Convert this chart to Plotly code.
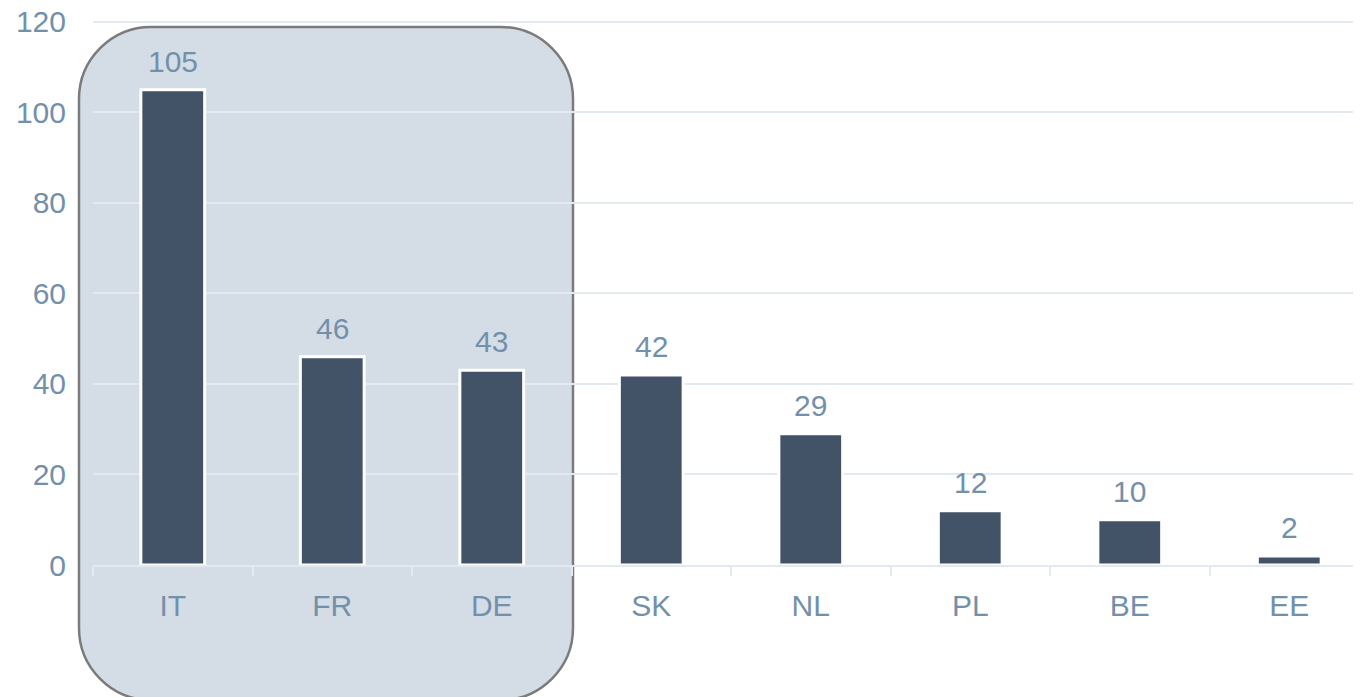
import plotly.graph_objects as go

categories = ["IT", "FR", "DE", "SK", "NL", "PL", "BE", "EE"]
values = [105, 46, 43, 42, 29, 12, 10, 2]
y_ticks = [0, 20, 40, 60, 80, 100, 120]

W, H = 1361, 697
OFF = 8  # page body margin
ML, MR, MT, MB = 85, 0, 12, 140
PW, PH = W - ML - MR, H - MT - MB

BAR = "#425267"
TXT = "#7390ab"
GRID = "#e3e9f1"
FONT = "Liberation Sans, Arial, sans-serif"
FS = 30

fig = go.Figure()
fig.add_trace(go.Bar(
    x=categories, y=values, width=0.4,
    marker=dict(color=BAR, line=dict(color="white", width=3)),
    hoverinfo="skip",
))

for c, v in zip(categories, values):
    fig.add_annotation(x=c, y=v, text=str(v), showarrow=False,
                       yanchor="bottom", yshift=10,
                       font=dict(family=FONT, size=FS, color=TXT))

# rounded highlight box (page pixel -> paper helper)
def px(x):
    return (x - OFF - ML) / PW
def py(y):
    return (H - MB - (y - OFF)) / PH

L, R, T, B, r = 79, 573, 27, 700, 72
k = 0.45
path = (
    f"M {px(L)},{py(T + r)} "
    f"C {px(L)},{py(T + r * k)} {px(L + r * k)},{py(T)} {px(L + r)},{py(T)} "
    f"L {px(R - r)},{py(T)} "
    f"C {px(R - r * k)},{py(T)} {px(R)},{py(T + r * k)} {px(R)},{py(T + r)} "
    f"L {px(R)},{py(B - r)} "
    f"C {px(R)},{py(B - r * k)} {px(R - r * k)},{py(B)} {px(R - r)},{py(B)} "
    f"L {px(L + r)},{py(B)} "
    f"C {px(L + r * k)},{py(B)} {px(L)},{py(B - r * k)} {px(L)},{py(B - r)} Z"
)
fig.add_shape(type="path", path=path, xref="paper", yref="paper",
              fillcolor="#d4dde6", line=dict(color="#7b7b7b", width=2.5),
              layer="below")

fig.update_layout(
    width=W, height=H,
    margin=dict(l=ML, r=MR, t=MT, b=MB, pad=0, autoexpand=False),
    paper_bgcolor="white", plot_bgcolor="rgba(0,0,0,0)",
    showlegend=False, bargap=0.6,
    font=dict(family=FONT, size=FS, color=TXT),
)
fig.update_xaxes(
    type="category", showgrid=False, showline=True, linecolor=GRID, linewidth=2,
    ticks="outside", tickson="boundaries", ticklen=9, tickcolor=GRID, tickwidth=2,
    ticklabelstandoff=13, tickfont=dict(size=FS, color=TXT, family=FONT),
    range=[-0.5, len(categories) - 0.5], fixedrange=True, automargin=False,
)
fig.update_yaxes(
    range=[0, 120.4], tickvals=y_ticks, showgrid=True, gridcolor=GRID, gridwidth=2,
    zeroline=False, showline=False, ticks="", ticklabelstandoff=26,
    ticklabeloverflow="allow", automargin=False,
    tickfont=dict(size=FS, color=TXT, family=FONT), fixedrange=True,
)

fig.write_html("out.html")
